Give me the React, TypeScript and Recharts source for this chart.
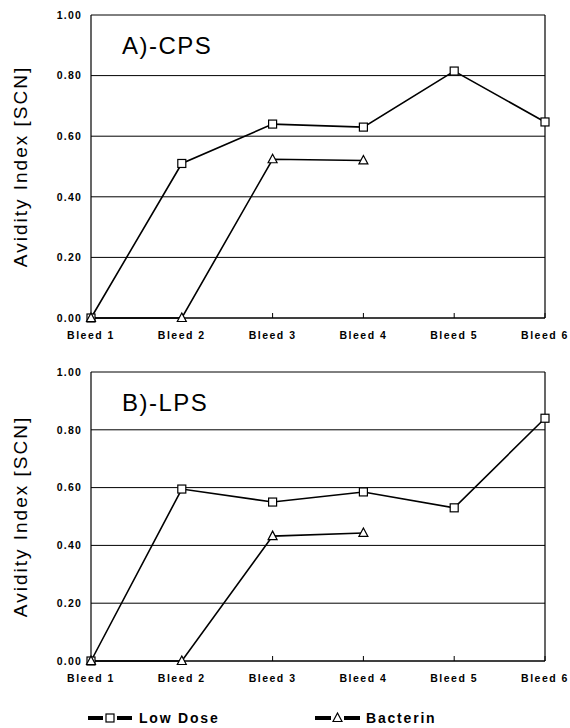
import React from 'react';
import {
  LineChart, Line, XAxis, YAxis, CartesianGrid, ReferenceLine, Legend
} from 'recharts';

const bleeds = ['Bleed 1', 'Bleed 2', 'Bleed 3', 'Bleed 4', 'Bleed 5', 'Bleed 6'];
const cpsLowDose = [0.0, 0.51, 0.64, 0.63, 0.815, 0.647];
const cpsBacterin = [0.0, 0.0, 0.524, 0.52, null, null];
const lpsLowDose = [0.0, 0.595, 0.55, 0.585, 0.53, 0.84];
const lpsBacterin = [0.0, 0.0, 0.432, 0.443, null, null];
const yTicks = [0, 0.2, 0.4, 0.6, 0.8, 1.0];
const seriesNames = ['Low Dose', 'Bacterin'];

const FONT = '"Liberation Sans", Arial, sans-serif';

const buildRows = (low: (number | null)[], bac: (number | null)[]) =>
  bleeds.map((name, i) => ({ name, low: low[i], bac: bac[i] }));

const SquareDot = (props: any) => {
  const { cx, cy, index } = props;
  if (cx == null || cy == null) return <g key={`s${index}`} />;
  return <rect key={`s${index}`} x={cx - 4} y={cy - 4} width={8} height={8} fill="#fff" stroke="#000" strokeWidth={1.2} />;
};

const TriangleDot = (props: any) => {
  const { cx, cy, index, value } = props;
  if (cx == null || cy == null || value == null) return <g key={`t${index}`} />;
  return (
    <path
      key={`t${index}`}
      d={`M${cx},${cy - 5} L${cx + 4.5},${cy + 3.5} L${cx - 4.5},${cy + 3.5} Z`}
      fill="#fff" stroke="#000" strokeWidth={1.2}
    />
  );
};

const YLabel = (props: any) => {
  const vb = props.viewBox || {};
  const cy = vb.y + vb.height / 2;
  return (
    <text
      x={20} y={cy} transform={`rotate(-90, 20, ${cy})`}
      textAnchor="middle" dominantBaseline="central"
      fontFamily={FONT} fontSize={19} letterSpacing={2} fill="#000"
    >
      Avidity Index [SCN]
    </text>
  );
};

// drawn as short thick dashes around the marker, like the scan
const LegendContent = () => (
  <svg width={570} height={42}>
    <g>
      <line x1={88} x2={103} y1={32} y2={32} stroke="#000" strokeWidth={4} />
      <rect x={106} y={28} width={8} height={8} fill="#fff" stroke="#000" strokeWidth={1.2} />
      <line x1={117} x2={132} y1={32} y2={32} stroke="#000" strokeWidth={4} />
      <text x={139} y={37} fontFamily={FONT} fontWeight="bold" fontSize={14} letterSpacing={1.8}>{seriesNames[0]}</text>
    </g>
    <g>
      <line x1={315} x2={331} y1={32} y2={32} stroke="#000" strokeWidth={4} />
      <path d="M337.5,27 L342,35.5 L333,35.5 Z" fill="#fff" stroke="#000" strokeWidth={1.2} />
      <line x1={344} x2={360} y1={32} y2={32} stroke="#000" strokeWidth={4} />
      <text x={366} y={37} fontFamily={FONT} fontWeight="bold" fontSize={14} letterSpacing={1.8}>{seriesNames[1]}</text>
    </g>
  </svg>
);

const Panel = ({ rows, height, top, bottom, legend }: any) => (
  <LineChart width={570} height={height} data={rows} margin={{ top, right: 25, left: 41, bottom }}>
    <CartesianGrid vertical={false} stroke="#000" strokeWidth={1} />
    <ReferenceLine x="Bleed 6" stroke="#000" strokeWidth={1.2} />
    <XAxis
      dataKey="name"
      scale="point"
      padding={{ left: 0, right: 0 }}
      height={25}
      axisLine={{ stroke: '#000', strokeWidth: 1.2 }}
      tickLine={{ stroke: '#000' }}
      tickSize={-5}
      tickMargin={19}
      interval={0}
      tick={{ fontSize: 10.5, fontWeight: 'bold', fill: '#000', fontFamily: FONT, letterSpacing: 1.5 }}
    />
    <YAxis
      domain={[0, 1]}
      ticks={yTicks}
      width={50}
      axisLine={{ stroke: '#000', strokeWidth: 1.2 }}
      tickLine={false}
      tickSize={0}
      tickMargin={9}
      tickFormatter={(v: number) => v.toFixed(2)}
      tick={{ fontSize: 10.5, fontWeight: 'bold', fill: '#000', fontFamily: FONT, letterSpacing: 1.2 }}
      label={{ content: <YLabel /> } as any}
    />
    {legend && (
      <Legend
        verticalAlign="bottom"
        height={42}
        wrapperStyle={{ left: 0, width: 570 }}
        content={<LegendContent />}
      />
    )}
    <Line
      dataKey="low" name={seriesNames[0]} stroke="#000" strokeWidth={1.6}
      dot={(p: any) => <SquareDot {...p} />} isAnimationActive={false}
    />
    <Line
      dataKey="bac" name={seriesNames[1]} stroke="#000" strokeWidth={1.6}
      dot={(p: any) => <TriangleDot {...p} />} isAnimationActive={false}
    />
  </LineChart>
);

const titleStyle: React.CSSProperties = {
  position: 'absolute', left: 122, fontFamily: FONT, fontSize: 24,
  letterSpacing: 1.5, color: '#000', lineHeight: '28px'
};

export default function App() {
  return (
    <div style={{ position: 'absolute', left: 0, top: 0, width: 570, height: 728, background: '#fff' }}>
      <div style={{ position: 'absolute', left: 0, top: 0 }}>
        <Panel rows={buildRows(cpsLowDose, cpsBacterin)} height={350} top={15} bottom={7} legend={false} />
      </div>
      <div style={{ position: 'absolute', left: 0, top: 350 }}>
        <Panel rows={buildRows(lpsLowDose, lpsBacterin)} height={378} top={22} bottom={0} legend={true} />
      </div>
      <div style={{ ...titleStyle, top: 32 }}>A)-CPS</div>
      <div style={{ ...titleStyle, top: 389 }}>B)-LPS</div>
    </div>
  );
}
